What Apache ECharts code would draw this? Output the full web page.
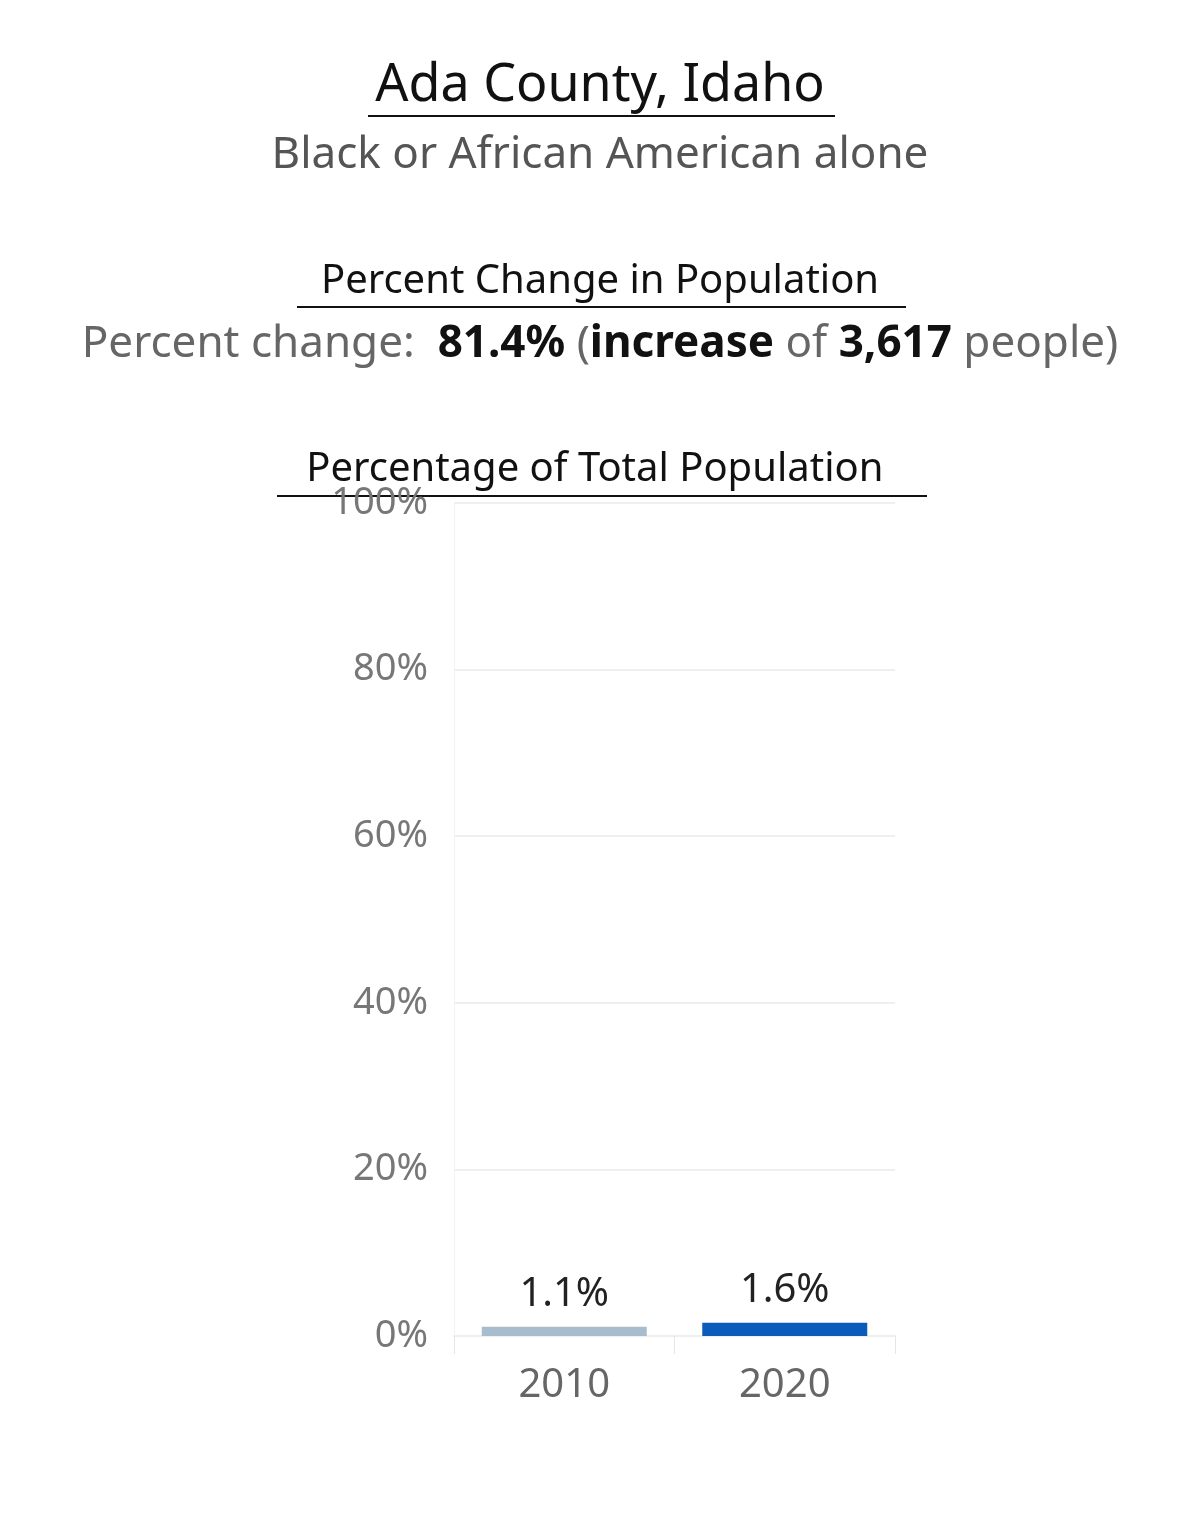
<!DOCTYPE html>
<html><head><meta charset="utf-8">
<script src="https://cdn.jsdelivr.net/npm/echarts@6/dist/echarts.min.js"></script>
<style>html,body{margin:0;padding:0;background:#fff}#c{width:1200px;height:1534px}</style>
</head><body><div id="c"></div>
<script>
const categories = ['2010', '2020'];
const values = [1.1, 1.6];
const barColors = ['#a7bdcd', '#0b5cba'];
const yTicks = [0, 20, 40, 60, 80, 100];
const F = '"Noto Sans", sans-serif';
const chart = echarts.init(document.getElementById('c'));
function ul(x1, x2, y){return {type:'line',shape:{x1:x1,y1:y,x2:x2,y2:y},style:{stroke:'#111',lineWidth:2}};}
chart.setOption({
  animation:false,
  grid:{left:454,right:305,top:503,bottom:198},
  xAxis:{type:'category',data:categories,
    axisLine:{show:true,lineStyle:{color:'#eeeeee',width:2}},
    axisTick:{show:true,length:18,lineStyle:{color:'#e6e6e6'}},
    axisLabel:{fontSize:40,color:'#666',fontFamily:F,margin:30}},
  yAxis:{type:'value',min:0,max:100,interval:20,
    axisLine:{show:true,lineStyle:{color:'#f2f2f2'}},
    axisLabel:{fontSize:38,color:'#777',fontFamily:F,margin:26,formatter:v=>yTicks.includes(v)?v+'%':''},
    splitLine:{lineStyle:{color:'#efefef',width:2}}},
  series:[{type:'bar',barWidth:165,
    data:values.map((v,i)=>({value:v,itemStyle:{color:barColors[i]}})),
    label:{show:true,position:'top',distance:12,fontSize:40,color:'#222',fontFamily:F,formatter:p=>p.value.toFixed(1)+'%'}}],
  graphic:[
    {type:'text',left:'center',top:60,style:{text:'Ada County, Idaho',font:'52px '+F,fill:'#111'}},
    ul(368,835,116),
    {type:'text',left:'center',top:133,style:{text:'Black or African American alone',font:'44px '+F,fill:'#555'}},
    {type:'text',left:'center',top:262,style:{text:'Percent Change in Population',font:'40px '+F,fill:'#111'}},
    ul(297,906,307),
    {type:'text',left:'center',top:322,style:{
      text:'{g|Percent change:  }{b|81.4%}{g| (}{b|increase}{g| of }{b|3,617}{g| people)}',
      rich:{g:{font:'44px '+F,fill:'#666'},b:{font:'bold 44px '+F,fill:'#111'}}}},
    {type:'text',left:'center',top:450,style:{text:'Percentage of Total Population ',font:'40px '+F,fill:'#111'}},
    ul(277,927,496)
  ]
});
</script></body></html>
